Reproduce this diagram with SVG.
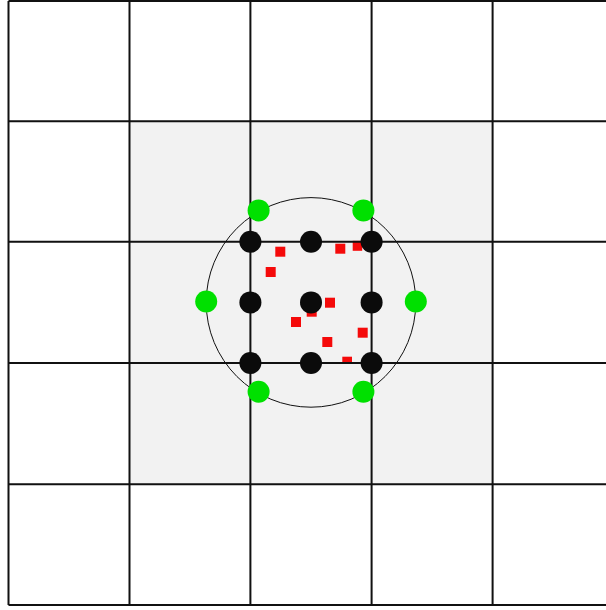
<svg xmlns="http://www.w3.org/2000/svg" width="606" height="610" viewBox="0 0 606 610">
<style>
.grid{stroke:#111;stroke-width:2;fill:none}
.ring{stroke:#111;stroke-width:1;fill:none}
.blk{fill:#0b0b0b}
.grn{fill:#00e000}
.red{fill:#f50a0a}
</style>
<rect x="0" y="0" width="606" height="610" fill="#ffffff"/>
<rect x="129.5" y="121.2" width="363.1" height="363" fill="#f2f2f2"/>
<g id="squares">
<rect class="red" x="275.3" y="246.7" width="10" height="10"/>
<rect class="red" x="265.7" y="267" width="10" height="10"/>
<rect class="red" x="335.3" y="243.7" width="10" height="10"/>
<rect class="red" x="352.7" y="240.8" width="9.5" height="10"/>
<rect class="red" x="325" y="297.7" width="10" height="10"/>
<rect class="red" x="306.7" y="306.7" width="10" height="10"/>
<rect class="red" x="291" y="317" width="10" height="10"/>
<rect class="red" x="322.3" y="337" width="10" height="10"/>
<rect class="red" x="357.7" y="327.7" width="10" height="10"/>
<rect class="red" x="342.3" y="356.7" width="9.7" height="6"/>
</g>
<g id="connectors">
<path class="grid" d="M8.5 1V605M129.5 1V605M250.4 1V605M371.6 1V605M492.6 1V605"/>
<path class="grid" d="M8.5 1H606M8.5 121.2H606M8.5 241.8H606M8.5 363H606M8.5 484.2H606M8.5 605H606"/>
<circle class="ring" cx="311" cy="302.4" r="104.8"/>
</g>
<g id="black-nodes">
<circle class="blk" cx="250.4" cy="241.8" r="11"/>
<circle class="blk" cx="311" cy="241.8" r="11"/>
<circle class="blk" cx="371.6" cy="241.8" r="11"/>
<circle class="blk" cx="250.4" cy="302.4" r="11"/>
<circle class="blk" cx="311" cy="302.4" r="11"/>
<circle class="blk" cx="371.6" cy="302.4" r="11"/>
<circle class="blk" cx="250.4" cy="363" r="11"/>
<circle class="blk" cx="311" cy="363" r="11"/>
<circle class="blk" cx="371.6" cy="363" r="11"/>
</g>
<g id="green-nodes">
<circle class="grn" cx="206.2" cy="301.5" r="11"/>
<circle class="grn" cx="415.8" cy="301.5" r="11"/>
<circle class="grn" cx="258.6" cy="210.4" r="11"/>
<circle class="grn" cx="363.4" cy="210.4" r="11"/>
<circle class="grn" cx="258.6" cy="391.8" r="11"/>
<circle class="grn" cx="363.4" cy="391.8" r="11"/>
</g>
</svg>
